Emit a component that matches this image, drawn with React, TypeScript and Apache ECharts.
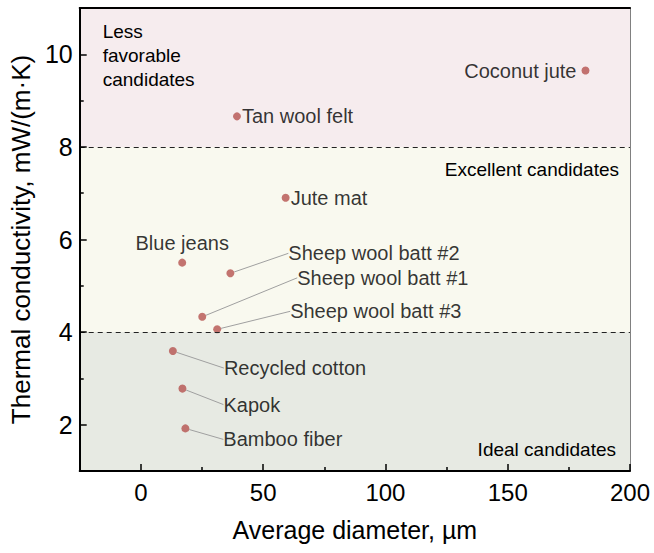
import React, { useEffect, useRef } from "react";
import * as echarts from "echarts";

// ---- data ----
const materials = [
  "Coconut jute",
  "Tan wool felt",
  "Jute mat",
  "Blue jeans",
  "Sheep wool batt #2",
  "Sheep wool batt #1",
  "Sheep wool batt #3",
  "Recycled cotton",
  "Kapok",
  "Bamboo fiber",
];
const diameters = [181.8, 39.3, 59.2, 16.9, 36.6, 25.1, 31.2, 13.1, 17.0, 18.2];
const conductivities = [9.65, 8.66, 6.9, 5.5, 5.27, 4.33, 4.06, 3.59, 2.78, 1.92];

const bandRanges = [
  [8, 11],
  [4, 8],
  [1, 4],
];
const bandNames = ["Less\nfavorable\ncandidates", "Excellent candidates", "Ideal candidates"];
const thresholds = [8, 4];

const xRange = [-25, 200];
const yRange = [1, 11];

// ---- presentation ----
const FONT = "'Liberation Sans', Arial, Helvetica, sans-serif";
const TEXT = "#000";
// translucent tints that give the band colours over the white page
const bandColors = ["rgba(165,65,85,0.1)", "rgba(195,195,95,0.1)", "rgba(95,115,68,0.15)"];
const bandLabelPos = ["insideTopLeft", "insideTopRight", "insideBottomRight"];
const bandLabelOffset = [
  [12, 0],
  [0, 0],
  [-3, 1],
];
// label placement per point: [position, distance, dx, dy, leaderLine]
const labelPlacement: [string, number, number, number, boolean][] = [
  ["left", 5, 0, 0, false],
  ["right", 1, 0, 0, false],
  ["right", 1, 0, 0, false],
  ["top", 6, 0, 0, false],
  ["right", 5, 49, -20, true],
  ["right", 5, 86, -39, true],
  ["right", 5, 64, -18, true],
  ["right", 5, 42, 17, true],
  ["right", 5, 32, 16, true],
  ["right", 5, 29, 11, true],
];

export default function App() {
  const ref = useRef<HTMLDivElement>(null);

  useEffect(() => {
    if (!ref.current) return;
    const chart = echarts.init(ref.current, null, { renderer: "svg" });

    const points = materials.map((name, i) => {
      const [pos, dist, , , leader] = labelPlacement[i];
      return {
        name,
        value: [diameters[i], conductivities[i]],
        label: { position: pos, distance: dist },
        labelLine: { show: leader },
      };
    });

    const option: any = {
      animation: false,
      grid: { left: 78, right: 24, top: 8, bottom: 82 },
      xAxis: [
        {
          type: "value",
          position: "bottom",
          z: 10,
          min: xRange[0],
          max: xRange[1],
          name: "Average diameter, µm",
          nameLocation: "middle",
          nameGap: 46,
          nameTextStyle: { fontSize: 25, color: TEXT, fontFamily: FONT },
          axisLine: { show: true, onZero: false, lineStyle: { color: "#000", width: 2 } },
          axisTick: { show: true, inside: true, length: 7, lineStyle: { color: "#000", width: 1.5 } },
          minorTick: { show: true, splitNumber: 2, length: 4, lineStyle: { color: "#000", width: 1.5 } },
          axisLabel: {
            fontSize: 24,
            color: TEXT,
            margin: 9,
            fontFamily: FONT,
            formatter: (v: number) => (v % 50 === 0 ? String(v) : ""),
          },
          splitLine: { show: false },
        },
        {
          type: "value",
          position: "top",
          z: 10,
          min: xRange[0],
          max: xRange[1],
          axisLine: { show: true, onZero: false, lineStyle: { color: "#000", width: 2 } },
          axisTick: { show: false },
          axisLabel: { show: false },
          splitLine: { show: false },
        },
      ],
      yAxis: [
        {
          type: "value",
          position: "left",
          z: 10,
          min: yRange[0],
          max: yRange[1],
          name: "Thermal conductivity, mW/(m·K)",
          nameLocation: "middle",
          nameGap: 42,
          nameTextStyle: { fontSize: 26, color: TEXT, fontFamily: FONT },
          axisLine: { show: true, onZero: false, lineStyle: { color: "#000", width: 2 } },
          axisTick: { show: true, inside: true, length: 7, lineStyle: { color: "#000", width: 1.5 } },
          minorTick: { show: true, splitNumber: 2, length: 4, lineStyle: { color: "#000", width: 1.5 } },
          axisLabel: {
            fontSize: 25,
            color: TEXT,
            margin: 7,
            fontFamily: FONT,
            formatter: (v: number) => (v % 2 === 0 ? String(v) : ""),
          },
          splitLine: { show: false },
        },
        {
          type: "value",
          position: "right",
          z: 10,
          min: yRange[0],
          max: yRange[1],
          axisLine: { show: true, onZero: false, lineStyle: { color: "#808080", width: 1 } },
          axisTick: { show: false },
          axisLabel: { show: false },
          splitLine: { show: false },
        },
      ],
      series: [
        {
          type: "scatter",
          symbol: "circle",
          symbolSize: 8,
          itemStyle: { color: "#B5524F" },
          data: points,
          label: { show: true, formatter: "{b}", fontSize: 20, color: TEXT, fontFamily: FONT },
          labelLine: { show: true, lineStyle: { color: "#a0a0a0", width: 1 } },
          labelLayout: (params: any) => {
            const p = labelPlacement[params.dataIndex];
            if (!p || !p[4]) return {};
            return { dx: p[2], dy: p[3] };
          },
          markArea: {
            silent: true,
            data: bandRanges.map((r, i) => [
              {
                yAxis: r[0],
                itemStyle: { color: bandColors[i] },
                label: {
                  show: true,
                  formatter: bandNames[i],
                  position: bandLabelPos[i],
                  distance: 11,
                  offset: bandLabelOffset[i],
                  fontSize: 19,
                  lineHeight: 24,
                  color: TEXT,
                  fontFamily: FONT,
                },
              },
              { yAxis: r[1] },
            ]),
          },
          markLine: {
            silent: true,
            symbol: ["none", "none"],
            label: { show: false },
            lineStyle: { color: "#222", width: 1, type: [5, 4] },
            data: thresholds.map((t) => ({ yAxis: t })),
          },
        },
      ],
    };

    chart.setOption(option);
    return () => chart.dispose();
  }, []);

  return (
    <div
      ref={ref}
      style={{ position: "absolute", left: 0, top: 0, width: 654, height: 553 }}
    />
  );
}
